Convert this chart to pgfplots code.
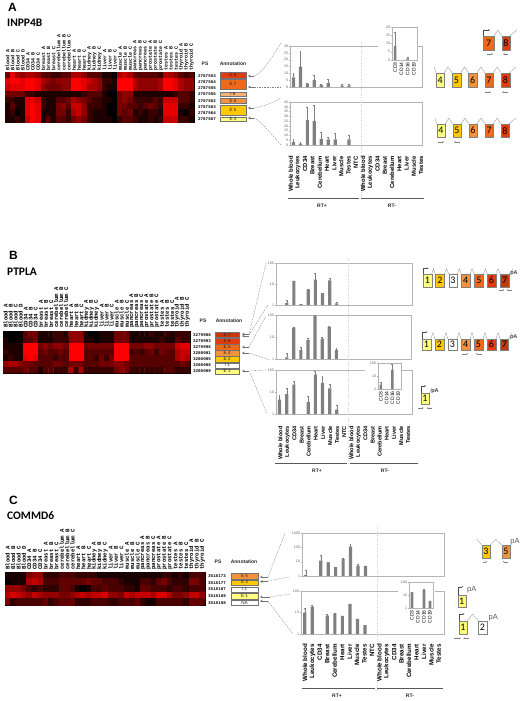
\documentclass[border=0pt]{standalone}
\usepackage{pgfplots}
\pgfplotsset{compat=1.18}
\usepackage{fontspec}
\setmainfont{Liberation Sans}
\setmonofont{Liberation Mono}
\newfontfamily\calb{Carlito}
\usetikzlibrary{arrows.meta}
\definecolor{gE}{HTML}{808080}
\definecolor{axg}{HTML}{B4B4B4}
\definecolor{ylw}{HTML}{FFFF80}
\definecolor{gold}{HTML}{FFC800}
\definecolor{orl}{HTML}{F4923C}
\definecolor{orm}{HTML}{EE6A1A}
\definecolor{ord}{HTML}{E23C0C}
\definecolor{drk}{HTML}{C03A0C}
\pgfplotsset{
  colormap={br}{rgb255=(0,0,0) rgb255=(255,0,0)},
  heat/.style={anchor=center,scale only axis,width=#1,enlargelimits=false,ticks=none,
    xmin=-0.5,xmax=36.5,y dir=reverse,colormap name=br,point meta min=0,point meta max=9,
    axis line style={black,line width=0.6pt}},
  bax/.style n args={4}{anchor=south west,at={(#1pt,-#2pt)},width=#3pt,height=#4pt,scale only axis,
    ybar,bar width=3.2pt,xmin=-0.5,xmax=18.5,xtick={-0.5,0.5,...,18.5},xticklabels={},
    tick pos=left,tick align=outside,major tick length=1.2pt,
    axis line style={axg,line width=0.5pt},tick style={axg,line width=0.3pt},
    tick label style={font=\fontsize{3.6}{4}\selectfont,text=black!60,inner sep=0.6pt},
    log basis y=10,minor y tick num=0,
    error bars/error bar style={black!50,line width=0.3pt},
    error bars/error mark options={rotate=90,mark size=0.9pt,black!50,line width=0.3pt}},
  iax/.style={xmin=-0.5,xmax=3.5,xtick={0,1,2,3},xticklabels={CD3,CD14,CD16,CD19},bar width=2.6pt,
    x tick label style={rotate=90,anchor=east,font=\fontsize{5}{5}\selectfont,text=black,inner sep=1pt},
    axis background/.style={fill=white}},
  bars/.style={fill=gE,draw=none,error bars/.cd,y dir=plus,y explicit},
  /pgfplots/table/heatcoords/.style={row sep=\\,header=false,x expr={\coordindex-37*floor((\coordindex+0.5)/37)},y expr={floor((\coordindex+0.5)/37)},meta index=0},
}
\tikzset{
  gb/.style={draw=black!50,line width=0.4pt},
  gl/.style={black!45,line width=0.3pt},
  pa/.style={black!50,line width=0.3pt,-{Stealth[length=1.6pt,width=1.6pt]}},
  pr/.style={black!70,line width=0.3pt,-{Stealth[length=1.5pt,width=1.5pt]}},
  la/.style={black!55,line width=0.5pt,-{Stealth[length=2.6pt,width=2.6pt]}},
  ds/.style={black!50,line width=0.35pt,dash pattern=on 1.6pt off 1pt},
  sep/.style={axg!60,line width=0.3pt,dotted},
}
\newcommand\gbox[6]{\fill[#5] (#1,#2) rectangle (#3,#4);\draw[gb] (#1,#2) rectangle (#3,#4);
  \node[inner sep=0,font=\calb\fontsize{10}{10}\selectfont,text=black] at ({(#1+#3)/2},{(#2+#4)/2}) {#6};}
\newcommand\annot[6]{\fill[#5] (#1,#2) rectangle (#3,#4);\draw[black!55,line width=0.3pt] (#1,#2) rectangle (#3,#4);
  \node[inner sep=0,font=\fontsize{4.6}{5}\selectfont,text=black!85] at ({(#1+#3)/2},{(#2+#4)/2}) {#6};}
\newcommand\psid[3]{\node[inner sep=0,font=\ttfamily\bfseries\fontsize{4.2}{5}\selectfont] at (#1,#2) {#3};}
\newcommand\headtxt[3]{\node[inner sep=0,font=\bfseries\fontsize{5}{5}\selectfont,text=black!85] at (#1,#2) {#3};}
\def\collist{Blood A,Blood B,Blood C,Blood D,CD34 A,CD34 B,CD34 C,breast A,breast B,breast C,cerebellum A,cerebellum B,cerebellum C,heart A,heart B,heart C,kidney A,kidney B,kidney C,liver A,liver B,liver C,muscle A,muscle B,muscle C,pancreas A,pancreas B,pancreas C,prostate A,prostate B,prostate C,testes A,testes B,testes C,thyroid A,thyroid B,thyroid C}
\def\catlist{Whole blood,Leukocytes,CD34,Breast,Cerebellum,Heart,Liver,Muscle,Testes,NTC,Whole blood,Leukocytes,CD34,Breast,Cerebellum,Heart,Liver,Muscle,Testes}
\newcommand\collabels[4]{\foreach \t [count=\i from 0] in \collist {\node[rotate=90,anchor=west,inner sep=0,font=\ttfamily\bfseries\fontsize{#4}{#4}\selectfont] at ({#1+(\i+.5)*#2},#3) {\t};}}
\newcommand\catlabels[4]{\foreach \t [count=\i from 0] in \catlist {\node[rotate=90,anchor=east,inner sep=0,font=\bfseries\fontsize{#4}{#4}\selectfont] at ({#1+\i*#2},#3) {\t};}}
\begin{document}
\begin{tikzpicture}[x=1pt,y=-1pt]
\path[use as bounding box] (0,0) rectangle (523,701);
% ------------------- titles
\node[anchor=west,inner sep=0,font=\bfseries\fontsize{12}{12}\selectfont] at (8,7) {A};
\node[anchor=west,inner sep=0,font=\calb\bfseries\fontsize{11.5}{12}\selectfont] at (7,23) {INPP4B};
\node[anchor=west,inner sep=0,font=\bfseries\fontsize{12}{12}\selectfont] at (9,255) {B};
\node[anchor=west,inner sep=0,font=\calb\bfseries\fontsize{11.5}{12}\selectfont] at (7,272) {PTPLA};
\node[anchor=west,inner sep=0,font=\bfseries\fontsize{12}{12}\selectfont] at (9,500) {C};
\node[anchor=west,inner sep=0,font=\calb\bfseries\fontsize{11.5}{12}\selectfont] at (7,516) {COMMD6};
% ------------------- heat map A
\collabels{5}{5.11}{70.5}{5}
\begin{axis}[heat=189pt,at={(99.5pt,-97pt)},height=50pt,ymin=-0.5,ymax=7.5]
\addplot[matrix plot*,point meta=explicit,mesh/cols=37] table[heatcoords] {
4\\8\\6\\5\\6\\6\\5\\3\\3\\2\\2\\3\\3\\6\\6\\5\\3\\3\\3\\1\\1\\0\\6\\7\\6\\3\\3\\3\\3\\3\\2\\6\\6\\5\\3\\2\\3\\
8\\9\\9\\8\\9\\9\\8\\6\\5\\4\\5\\5\\5\\9\\9\\8\\7\\6\\5\\2\\2\\1\\9\\9\\9\\6\\5\\5\\5\\5\\6\\9\\9\\8\\6\\5\\5\\
7\\8\\8\\8\\9\\9\\8\\5\\4\\4\\4\\5\\5\\9\\9\\8\\6\\6\\5\\2\\1\\1\\9\\9\\9\\6\\5\\5\\5\\5\\6\\9\\9\\8\\6\\5\\5\\
4\\4\\4\\4\\2\\2\\1\\1\\1\\1\\1\\1\\1\\1\\1\\2\\3\\3\\3\\1\\0\\0\\4\\5\\5\\1\\1\\1\\1\\1\\1\\1\\1\\2\\3\\3\\2\\
2\\2\\1\\1\\8\\8\\7\\2\\1\\1\\3\\3\\4\\6\\5\\4\\3\\2\\2\\1\\1\\0\\4\\5\\4\\2\\2\\2\\2\\3\\2\\7\\7\\7\\3\\3\\2\\
1\\3\\1\\1\\8\\9\\8\\2\\1\\1\\4\\5\\3\\7\\7\\5\\2\\2\\2\\1\\0\\0\\4\\4\\3\\3\\2\\3\\4\\3\\2\\8\\8\\8\\2\\2\\1\\
1\\2\\0\\1\\8\\9\\8\\1\\1\\1\\4\\4\\2\\6\\7\\5\\2\\1\\1\\1\\0\\0\\4\\3\\4\\1\\2\\1\\2\\2\\1\\8\\8\\8\\1\\0\\2\\
1\\1\\2\\1\\7\\9\\8\\1\\3\\1\\3\\3\\2\\4\\5\\4\\2\\1\\1\\1\\1\\0\\2\\3\\3\\2\\1\\1\\2\\1\\2\\7\\7\\7\\2\\2\\1\\
};
\end{axis}
\headtxt{205}{64}{PS}\headtxt{233}{64}{Annotation}
\psid{207}{76}{2787553}\psid{207}{82}{2787554}\psid{207}{88}{2787555}\psid{207}{94}{2787556}
\psid{207}{101}{2787562}\psid{207}{107}{2787563}\psid{207}{113}{2787564}\psid{207}{119}{2787567}
\annot{220}{72.5}{246}{78}{ord}{E 8}\annot{220}{79}{246}{89}{orm}{E 7}\annot{220}{92}{246}{96}{orl!70}{I 6}
\annot{220}{98}{246}{103}{orl}{E 6}\annot{220}{105}{246}{115}{gold}{E 5}\annot{220}{117}{246}{121}{ylw}{E 4}
% arrows A
\draw[la] (254,76)--(248,76);\draw[la] (254,87)--(248,87);\draw[la] (254,108)--(248,108);\draw[la] (254,118)--(248,118);
\draw[ds] (254,76)..controls (262,74) and (270,60)..(281,43);\draw[ds] (254,87)--(281,87);
\draw[ds] (254,108)..controls (262,107) and (272,103)..(281,98);\draw[ds] (254,118)..controls (262,122) and (272,135)..(281,145);
% bars A
\begin{axis}[bax={290}{87}{132}{41},ymin=0,ymax=30,ytick={0,5,...,30},yticklabels={0,5,10,15,20,25,30}]
\addplot[bars] coordinates {(0,7) +- (0,3.2) (1,15) +- (0,11.5) (2,2.5) +- (0,0.5) (3,5) +- (0,4) (4,1.5) +- (0,0.5) (5,3) +- (0,2.5) (7,1.2) +- (0,0.8) (8,1) +- (0,0.8)};
\end{axis}
\begin{axis}[bax={290}{145}{132}{43},ymin=0,ymax=45,ytick={0,5,...,45},yticklabels={0,5,10,15,20,25,30,35,40,45}]
\addplot[bars] coordinates {(0,3) +- (0,3.5) (1,1.5) +- (0,1) (2,26) +- (0,14) (3,25) +- (0,17) (4,6.5) +- (0,6.5) (5,6) +- (0,2) (6,6) +- (0,6) (8,6) +- (0,4)};
\end{axis}
\draw[sep] (361,42)--(361,198);
\fill[white] (378,22) rectangle (417.5,80);
\begin{axis}[bax={392}{60}{25}{33},iax,ymin=0,ymax=20,ytick={0,5,...,20},yticklabels={0,5,10,15,20}]
\addplot[bars] coordinates {(0,8.5) +- (0,8.5) (2,1) +- (0,1)};
\end{axis}
\catlabels{290.7}{7.24}{156}{5.9}
\draw[black!65,line width=0.5pt] (288,198)--(359,198) (361,198)--(424,198);
\headtxt{322}{206}{RT+}\headtxt{392}{206}{RT-}
% gene models A
\gbox{483.3}{36}{494}{50}{orm}{7}\gbox{501.7}{36}{510}{50}{ord}{8}
\draw[gl] (494,36)--(498,30)--(501.7,36) (510,36)--(516.7,30);
\draw[pr] (483.3,36)--(483.3,30)--(490,30);
\draw[pa] (487,54)--(493,54);\draw[pa] (508,54)--(503,54);
\gbox{436}{72.7}{444.3}{87.3}{ylw}{4}\gbox{452}{72.7}{460.7}{87.3}{gold}{5}\gbox{468.3}{72.7}{477}{87.3}{orl}{6}\gbox{484.7}{72.7}{493.3}{87.3}{orm}{7}\gbox{501}{72.7}{509.7}{87.3}{ord}{8}
\draw[gl] (434,67)--(436,72.7) (444.3,72.7)--(448,67)--(452,72.7) (460.7,72.7)--(464.5,67)--(468.3,72.7) (477,72.7)--(481,67)--(484.7,72.7) (493.3,72.7)--(497,67)--(501,72.7) (509.7,72.7)--(515.7,67);
\draw[pa] (485,92)--(491,92);\draw[pa] (508,92)--(502,92);
\gbox{436.7}{124}{445}{137.3}{ylw}{4}\gbox{452.7}{124}{461}{137.3}{gold}{5}\gbox{469}{124}{476.7}{137.3}{orl}{6}\gbox{485}{124}{493.3}{137.3}{orm}{7}\gbox{501}{124}{509}{137.3}{ord}{8}
\draw[gl] (435,118)--(436.7,124) (445,124)--(449,118)--(452.7,124) (461,124)--(465,118)--(469,124) (476.7,124)--(481,118)--(485,124) (493.3,124)--(497,118)--(501,124) (509,124)--(515.7,118);
\draw[pa] (438,142)--(444,142);\draw[pa] (460,142)--(454,142);
% ------------------- heat map B
\collabels{3}{5.05}{328}{5.7}
\begin{axis}[heat=187pt,at={(96.5pt,-352pt)},height=42pt,ymin=-0.5,ymax=6.5]
\addplot[matrix plot*,point meta=explicit,mesh/cols=37] table[heatcoords] {
0\\0\\0\\0\\3\\4\\4\\1\\1\\1\\2\\2\\1\\5\\5\\5\\1\\0\\0\\1\\1\\1\\4\\4\\4\\1\\1\\1\\1\\2\\1\\1\\2\\1\\2\\2\\2\\
1\\0\\0\\0\\3\\3\\4\\1\\1\\1\\2\\2\\2\\5\\5\\5\\1\\1\\0\\1\\1\\1\\4\\4\\4\\1\\1\\1\\1\\1\\1\\2\\1\\1\\3\\2\\2\\
1\\1\\1\\1\\9\\9\\9\\4\\5\\4\\5\\5\\4\\9\\9\\9\\4\\4\\4\\4\\4\\4\\9\\9\\9\\4\\4\\4\\5\\5\\4\\4\\4\\4\\7\\8\\8\\
2\\1\\1\\1\\9\\9\\9\\3\\4\\3\\3\\4\\3\\9\\9\\9\\3\\3\\3\\3\\3\\3\\9\\9\\9\\2\\3\\2\\3\\4\\2\\4\\3\\3\\6\\7\\7\\
1\\2\\1\\1\\8\\9\\8\\3\\3\\3\\2\\3\\3\\9\\9\\9\\3\\3\\2\\4\\2\\4\\9\\9\\9\\3\\3\\3\\3\\3\\3\\3\\3\\3\\6\\7\\6\\
5\\6\\6\\5\\4\\4\\3\\3\\3\\3\\4\\4\\3\\4\\4\\4\\3\\3\\3\\4\\4\\4\\5\\5\\4\\3\\3\\3\\3\\3\\3\\3\\3\\3\\3\\4\\3\\
3\\3\\3\\3\\4\\3\\3\\1\\3\\3\\2\\2\\2\\6\\2\\6\\2\\2\\2\\2\\2\\2\\4\\5\\4\\2\\2\\2\\2\\2\\2\\2\\3\\3\\2\\2\\2\\
};
\end{axis}
\headtxt{203}{321}{PS}\headtxt{229}{321}{Annotation}
\psid{202}{335}{3279988}\psid{202}{340.7}{3279993}\psid{202}{346.7}{3279996}\psid{202}{353}{3280001}
\psid{202}{359}{3280005}\psid{202}{365}{3280008}\psid{202}{371.3}{3280009}
\annot{215}{332}{239.3}{337.3}{ord!90!black}{E 7}\annot{215}{338.3}{239.3}{343.7}{ord}{E 6}\annot{215}{344.3}{239.3}{350}{orm}{E 5}
\annot{215}{350.3}{239.3}{356}{orl}{E 4}\annot{215}{356.3}{239.3}{362}{gold}{E 2}\annot{215}{362.7}{239.3}{368}{white}{I 1}\annot{215}{368.7}{239.3}{373.7}{ylw}{E 1}
\draw[la] (249,334)--(242,334);\draw[la] (249,336)--(242,336);\draw[la] (249,347)--(242,347);\draw[la] (249,353)--(242,353);\draw[la] (249,371)--(242,371);
\draw[ds] (249,335)--(266,263);\draw[ds] (249,335)--(268,305);\draw[ds] (249,347)--(266,316);\draw[ds] (249,353)--(270,360);\draw[ds] (249,371)--(267,370);\draw[ds] (250,373)--(267,414);
% bars B
\begin{axis}[bax={276}{305}{136}{42},ymode=log,ymin=1,ymax=100,ytick={1,10,100},yticklabels={1,10,100}]
\addplot[bars] coordinates {(1,1.25) +- (0,0.42) (2,14) +- (0,0.1) (3,1.1) +- (0,0) (4,5.6) +- (0,0.3) (5,16) +- (0,17) (6,3.7) +- (0,0.1) (7,15) +- (0,3.6) (8,1.2) +- (0,0.14)};
\end{axis}
\begin{axis}[bax={276}{359}{135}{44},ymode=log,ymin=1,ymax=100,ytick={1,10,100},yticklabels={1,10,100}]
\addplot[bars] coordinates {(1,1.2) +- (0,0.6) (2,27) +- (0,0.5) (3,2.6) +- (0,0.9) (4,7.3) +- (0,1.4) (5,90) +- (0,10) (6,8.4) +- (0,1.6) (7,28) +- (0,2) (8,2.6) +- (0,0.5)};
\end{axis}
\begin{axis}[bax={276}{414}{136}{44},ymode=log,ymin=1,ymax=100,ytick={1,10,100},yticklabels={1,10,100}]
\addplot[bars] coordinates {(0,4.5) +- (0,3) (1,8) +- (0,7.7) (2,21.5) +- (0,11.2) (4,3.5) +- (0,3.3) (5,61) +- (0,29) (6,26) +- (0,24) (7,14.7) +- (0,7.3) (8,1.57) +- (0,1)};
\end{axis}
\draw[sep] (348.5,258)--(348.5,463);
\fill[white] (365,360) rectangle (401.7,410);
\begin{axis}[bax={378}{389}{23}{26},iax,ymode=log,ymin=1,ymax=100,ytick={1,10,100},yticklabels={1,10,100}]
\addplot[bars] coordinates {(0,2.2) +- (0,1.4) (2,31.6) +- (0,46)};
\end{axis}
\catlabels{280.3}{7.1}{426}{5.6}
\draw[black!65,line width=0.5pt] (275,463)--(347,463) (350,463)--(418,463);
\headtxt{317}{471}{RT+}\headtxt{385}{471}{RT-}
% gene models B
\gbox{423}{274}{431.7}{286.7}{ylw}{1}\gbox{435.3}{274}{444.3}{286.7}{gold}{2}\gbox{448.7}{274}{457.3}{286.7}{white}{3}\gbox{461.3}{274}{470}{286.7}{orl}{4}\gbox{474.3}{274}{483.3}{286.7}{orm}{5}\gbox{487.3}{274}{495.7}{286.7}{ord}{6}\gbox{500.3}{274}{509}{286.7}{drk}{7}
\draw[gl] (431.7,274)--(433.5,268.7)--(435.3,274) (444.3,274)--(446.5,268.7)--(448.7,274) (457.3,274)--(459.3,268.7)--(461.3,274) (470,274)--(472,268.7)--(474.3,274) (483.3,274)--(485.3,268.7)--(487.3,274) (495.7,274)--(498,268.7)--(500.3,274) (509,274)--(513,269);
\draw[pr] (423,274)--(423,268.3)--(428.5,268.3);
\draw[pa] (499,290)--(504.3,290);\draw[pa] (512,290)--(506.7,290);
\node[inner sep=0,font=\bfseries\fontsize{5.5}{6}\selectfont,text=black!75] at (514,273) {pA};
\gbox{422}{339.3}{430.7}{350}{ylw}{1}\gbox{435}{339.3}{443.7}{350}{gold}{2}\gbox{448}{339.3}{456.7}{350}{white}{3}\gbox{461.3}{339.3}{470}{350}{orl}{4}\gbox{474}{339.3}{482.7}{350}{orm}{5}\gbox{487}{339.3}{495.7}{350}{ord}{6}\gbox{500.3}{339.3}{508.3}{350}{drk}{7}
\draw[gl] (430.7,339.3)--(433,332.5)--(435,339.3) (443.7,339.3)--(446,332.5)--(448,339.3) (456.7,339.3)--(459,332.5)--(461.3,339.3) (470,339.3)--(472,332.5)--(474,339.3) (482.7,339.3)--(485,332.5)--(487,339.3) (495.7,339.3)--(498,332.5)--(500.3,339.3) (508.3,339.3)--(512,333);
\draw[pr] (422,339.3)--(422,332)--(427.3,332);
\draw[pa] (462.3,353.7)--(468.3,353.7);\draw[pa] (481.7,353.7)--(475.7,353.7);
\node[inner sep=0,font=\bfseries\fontsize{5.5}{6}\selectfont,text=black!75] at (513.7,337) {pA};
\gbox{420.7}{393.3}{429.3}{404}{ylw}{1}
\draw[gl] (429.3,393.3)--(432,388);
\draw[pr] (420.7,393.3)--(420.7,386)--(426,386);
\draw[pa] (418.3,408)--(423.7,408);\draw[pa] (431.7,408)--(426.7,408);
\node[inner sep=0,font=\bfseries\fontsize{5.5}{6}\selectfont,text=black!75] at (435,391) {pA};
% ------------------- heat map C
\collabels{5}{5.41}{570}{5.7}
\begin{axis}[heat=200pt,at={(105pt,-588.5pt)},height=33pt,ymin=-0.5,ymax=4.5,point meta max=10.5]
\addplot[matrix plot*,point meta=explicit,mesh/cols=37] table[heatcoords] {
1\\1\\1\\1\\5\\6\\6\\2\\2\\2\\3\\3\\3\\2\\2\\2\\2\\1\\1\\1\\1\\1\\1\\1\\1\\1\\1\\1\\1\\2\\2\\1\\2\\1\\3\\3\\3\\
0\\1\\1\\1\\7\\8\\7\\3\\3\\3\\4\\4\\4\\4\\4\\5\\4\\4\\3\\3\\3\\2\\1\\1\\1\\3\\3\\2\\4\\5\\3\\2\\2\\2\\5\\5\\3\\
6\\6\\6\\5\\3\\2\\3\\2\\2\\2\\4\\4\\3\\1\\0\\1\\3\\3\\4\\3\\3\\3\\2\\2\\1\\4\\4\\3\\3\\3\\2\\3\\3\\2\\3\\3\\3\\
7\\9\\8\\7\\6\\8\\7\\6\\6\\6\\5\\5\\6\\7\\8\\7\\8\\8\\9\\6\\6\\5\\8\\7\\8\\8\\8\\7\\9\\9\\7\\5\\5\\6\\8\\8\\6\\
5\\2\\3\\3\\3\\3\\3\\4\\2\\3\\4\\4\\4\\2\\2\\2\\3\\3\\3\\2\\2\\3\\3\\3\\4\\2\\1\\1\\3\\3\\3\\3\\3\\2\\4\\4\\4\\
};
\end{axis}
\headtxt{218}{562}{PS}\headtxt{244}{562}{Annotation}
\psid{217}{576}{3518173}\psid{217}{582.7}{3518177}\psid{217}{589}{3518187}\psid{217}{596}{3518189}\psid{217}{603}{3518198}
\annot{231}{572.7}{258}{578.7}{orl}{E 5}\annot{231}{579.7}{258}{585}{gold}{E 3}\annot{231}{587}{258}{591.7}{white}{I 2}
\annot{231}{593.3}{258}{598.7}{ylw}{E 1}\annot{231}{600.3}{258}{605.3}{white}{NA}
\draw[la] (268,577)--(260,577);\draw[la] (268,581.5)--(260,581.5);\draw[la] (270,597)--(260,597);\draw[la] (268,601)--(260,601);
\draw[ds] (268,577)--(285,533);\draw[ds] (268,581)--(289,577);\draw[ds] (270,597)--(290,594);\draw[ds] (268,601)--(293,634);
% bars C
\begin{axis}[bax={302}{576}{142}{43},ymode=log,ymin=1,ymax=1000,ytick={1,10,100,1000},yticklabels={1,10,100,1000}]
\addplot[bars] coordinates {(0,1.17) +- (0,1.5) (2,12) +- (0,16) (3,8.7) +- (0,0.4) (4,4.2) +- (0,0.1) (5,15.5) +- (0,0.8) (6,110) +- (0,55) (7,5.4) +- (0,1.3) (8,5.1) +- (0,0.1)};
\end{axis}
\begin{axis}[bax={301}{634}{143}{43},ymode=log,ymin=1,ymax=100,ytick={1,10,100},yticklabels={1,10,100}]
\addplot[bars] coordinates {(0,10) +- (0,6) (1,19) +- (0,3) (3,7.2) +- (0,1.1) (4,9) +- (0,0.1) (5,6.9) +- (0,0.1) (6,25) +- (0,0.5) (7,5) +- (0,0.1) (8,2.6) +- (0,0.1)};
\end{axis}
\draw[sep] (377,526)--(377,690);
\fill[white] (398,580) rectangle (435,628);
\begin{axis}[bax={409}{608}{24}{26},iax,ymode=log,ymin=1,ymax=100,ytick={1,10,100},yticklabels={1,10,100}]
\addplot[bars] coordinates {(0,15.6) +- (0,0.2) (2,24) +- (0,6) (3,3.5) +- (0,0.1)};
\end{axis}
\catlabels{305}{7.43}{644}{6.2}
\draw[black!65,line width=0.5pt] (302,688)--(375,688) (377,688)--(443,688);
\headtxt{337}{696}{RT+}\headtxt{410}{696}{RT-}
% gene models C
\gbox{481.7}{545}{490}{558.3}{gold}{3}\gbox{501.7}{545}{510}{558.3}{orl}{5}
\draw[gl] (476.7,539.3)--(481.7,545) (490,545)--(495.7,539.3)--(501.7,545);
\draw[pa] (482.7,561.7)--(487.3,561.7);\draw[pa] (508.3,561.7)--(502.7,561.7);
\node[inner sep=0,font=\fontsize{7.5}{8}\selectfont,text=black!65] at (515,542) {pA};
\gbox{457.7}{595}{465.7}{606.7}{ylw!90!yellow}{1}
\draw[pr] (457.7,595)--(457.7,586.7)--(463.3,586.7);
\node[inner sep=0,font=\fontsize{7.5}{8}\selectfont,text=black!65] at (471.7,590) {pA};
\gbox{458.7}{621}{467}{634}{ylw!90!yellow}{1}\gbox{478.3}{621}{486.7}{634}{white}{2}
\draw[gl] (467,621)--(472.7,614)--(478.3,621);
\draw[pr] (458.7,621)--(458.7,614)--(464.3,614);
\draw[pa] (454,638.3)--(460.7,638.3);\draw[pa] (469.3,638.3)--(463.3,638.3);
\node[inner sep=0,font=\fontsize{7.5}{8}\selectfont,text=black!65] at (493.3,617.7) {pA};
\end{tikzpicture}
\end{document}
